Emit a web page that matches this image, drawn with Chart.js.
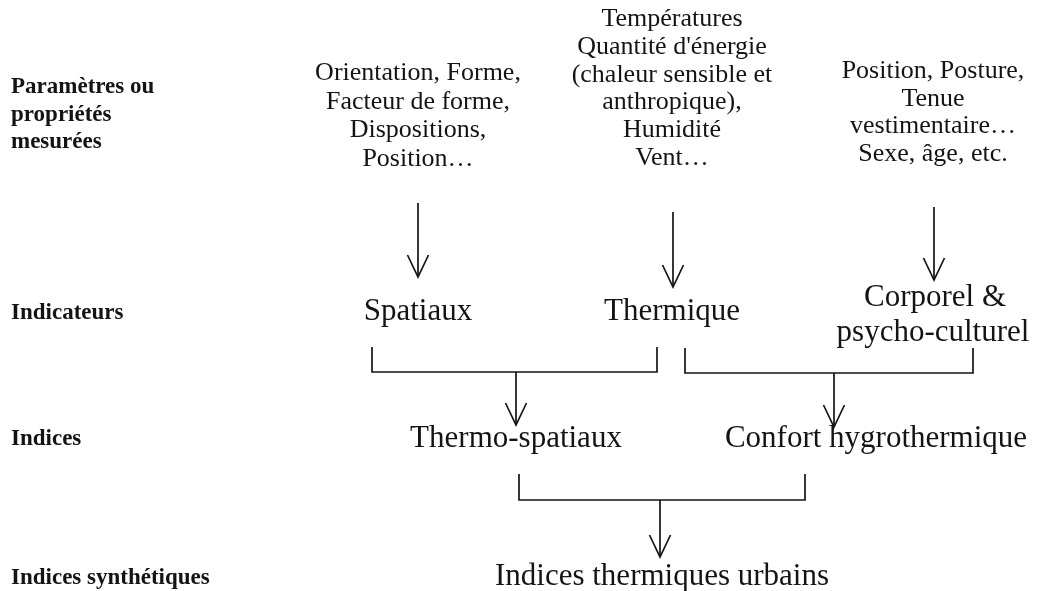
<!DOCTYPE html>
<html>
<head>
<meta charset="utf-8">
<script src="https://cdn.jsdelivr.net/npm/chart.js@4.4.0/dist/chart.umd.min.js"></script>
<style>
  html, body { margin: 0; padding: 0; background: #ffffff; }
  #wrap { width: 1039px; height: 591px; }
</style>
</head>
<body>
<div id="wrap"><canvas id="c" width="1039" height="591"></canvas></div>
<script>
// Row headings (left, bold)
const rowHeadings = [
  ["Paramètres ou", 11, 93],
  ["propriétés", 11, 121],
  ["mesurées", 11, 148],
  ["Indicateurs", 11, 319],
  ["Indices", 11, 445],
  ["Indices synthétiques", 11, 584]
];
// Measured parameters (top row, centered)
const paramSpatial = ["Orientation, Forme,", "Facteur de forme,", "Dispositions,", "Position…"];
const paramThermal = ["Températures", "Quantité d'énergie", "(chaleur sensible et", "anthropique),", "Humidité", "Vent…"];
const paramBody = ["Position, Posture,", "Tenue", "vestimentaire…", "Sexe, âge, etc."];
// Node labels
const indicatorLabels = [["Spatiaux", 418, 320], ["Thermique", 672, 320], ["Corporel &", 935, 306], ["psycho-culturel", 933, 341]];
const indexLabels = [["Thermo-spatiaux", 516, 447], ["Confort hygrothermique", 876, 447]];
const synthLabels = [["Indices thermiques urbains", 662, 585]];

// Arrows: [x, yStart, yEnd]
const arrows = [[418, 203, 277], [673, 212, 287], [934, 207, 280], [516, 372, 425], [834, 373, 427], [660, 500, 557]];
// Brackets: [xLeft, xRight, yTop, yBottom]
const brackets = [[372, 657, 347, 372], [685, 973, 348, 373], [519, 805, 474, 500]];

const lineDatasets = [];
const black = '#141414';
function seg(points) {
  lineDatasets.push({
    data: points.map(p => ({x: p[0], y: p[1]})),
    showLine: true, borderColor: black, borderWidth: 1.7,
    pointRadius: 0, fill: false, tension: 0
  });
}
arrows.forEach(a => {
  seg([[a[0], a[1]], [a[0], a[2]]]);
  seg([[a[0] - 10.5, a[2] - 22], [a[0], a[2]], [a[0] + 10.5, a[2] - 22]]);
});
brackets.forEach(b => {
  seg([[b[0], b[2]], [b[0], b[3]], [b[1], b[3]], [b[1], b[2]]]);
});

const textPlugin = {
  id: 'diagramText',
  afterDatasetsDraw(chart) {
    const ctx = chart.ctx, xs = chart.scales.x, ys = chart.scales.y;
    ctx.save();
    ctx.fillStyle = black;
    ctx.textBaseline = 'alphabetic';
    function put(t, x, y, font, align) {
      ctx.font = font; ctx.textAlign = align;
      ctx.fillText(t, xs.getPixelForValue(x), ys.getPixelForValue(y));
    }
    rowHeadings.forEach(r => put(r[0], r[1], r[2], 'bold 23px "Liberation Serif"', 'left'));
    paramSpatial.forEach((t, i) => put(t, 418, 80 + i * 28.5, '26px "Liberation Serif"', 'center'));
    paramThermal.forEach((t, i) => put(t, 672, 26 + i * 27.8, '26px "Liberation Serif"', 'center'));
    paramBody.forEach((t, i) => put(t, 933, 78 + i * 27.5, '26px "Liberation Serif"', 'center'));
    indicatorLabels.forEach(l => put(l[0], l[1], l[2], '31px "Liberation Serif"', 'center'));
    indexLabels.forEach(l => put(l[0], l[1], l[2], '31px "Liberation Serif"', 'center'));
    synthLabels.forEach(l => put(l[0], l[1], l[2], '31px "Liberation Serif"', 'center'));
    ctx.restore();
  }
};

new Chart(document.getElementById('c'), {
  type: 'scatter',
  data: { datasets: lineDatasets },
  options: {
    responsive: false, animation: false,
    layout: { padding: 0 },
    plugins: { legend: { display: false }, tooltip: { enabled: false } },
    scales: {
      x: { type: 'linear', min: 0, max: 1039, display: false },
      y: { type: 'linear', min: 0, max: 591, reverse: true, display: false }
    }
  },
  plugins: [textPlugin]
});
</script>
</body>
</html>
